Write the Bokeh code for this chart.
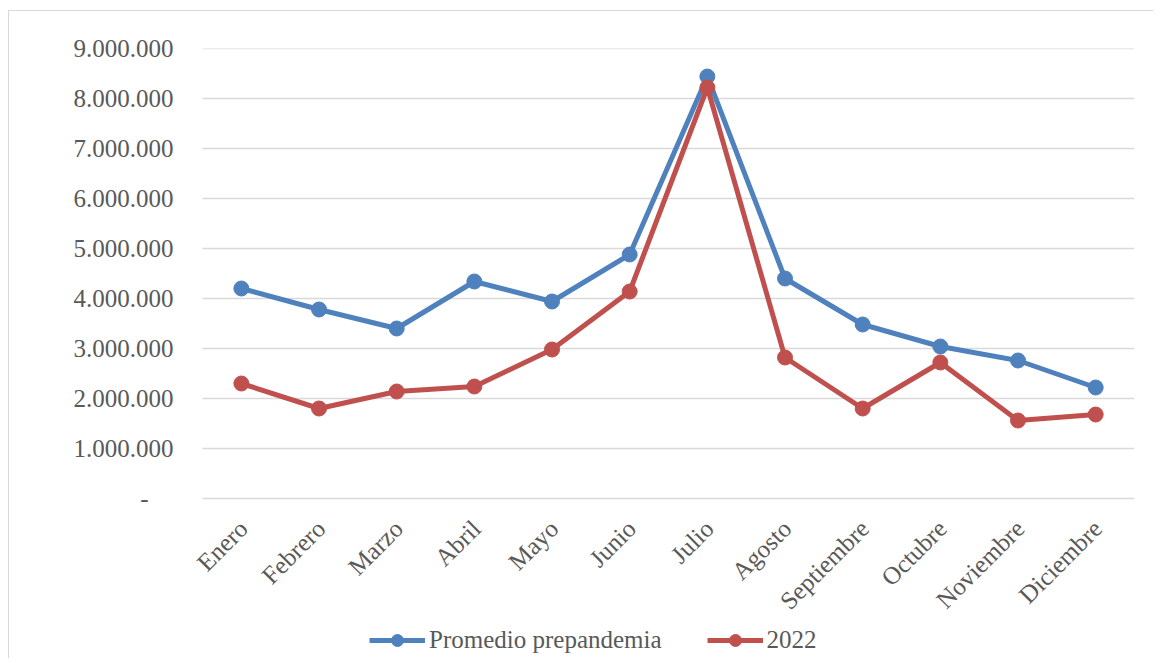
from bokeh.plotting import figure
from bokeh.models import Legend, LegendItem, CustomJSTickFormatter, Range1d, ColumnDataSource
from bokeh.core.properties import value
from bokeh.embed import file_html
from bokeh.resources import INLINE
from math import pi

months = ["Enero", "Febrero", "Marzo", "Abril", "Mayo", "Junio", "Julio",
          "Agosto", "Septiembre", "Octubre", "Noviembre", "Diciembre"]
promedio = [4200000, 3780000, 3400000, 4340000, 3940000, 4880000, 8440000,
            4400000, 3480000, 3040000, 2760000, 2220000]
y2022 = [2300000, 1800000, 2140000, 2240000, 2980000, 4140000, 8220000,
         2820000, 1800000, 2720000, 1560000, 1680000]
yticks = [0, 1000000, 2000000, 3000000, 4000000, 5000000, 6000000, 7000000, 8000000, 9000000]

BLUE = "#4F81BD"
RED = "#C0504D"
TXT = "#595959"
FONT = "Liberation Serif"

n = len(months)
xpos = list(range(n))

# frame extends below zero (and slightly left) so category labels and legend sit inside it
p = figure(frame_width=944, frame_height=610,
           x_range=Range1d(-0.655, n - 0.5), y_range=Range1d(-3200000, 9000000),
           output_backend="svg", toolbar_location=None,
           min_border_left=181, min_border_top=37, min_border_right=19, min_border_bottom=0)
p.margin = (10, 0, 0, 8)
p.styles = {"border-left": "1px solid #d9d9d9", "border-top": "1px solid #d9d9d9"}
p.outline_line_color = None
p.background_fill_color = "white"

p.xaxis.visible = False
p.xgrid.grid_line_color = None
p.ygrid.grid_line_color = None

# horizontal gridlines across the category band
p.segment(x0=[-0.5] * len(yticks), y0=yticks, x1=[n - 0.5] * len(yticks), y1=yticks,
          line_color="#d9d9d9", line_width=1.5)

p.yaxis.ticker = yticks
p.yaxis.formatter = CustomJSTickFormatter(code="""
if (tick == 0) { return "-\u00a0\u00a0\u00a0\u00a0"; }
return Math.round(tick).toString().replace(/\\B(?=(\\d{3})+(?!\\d))/g, ".");
""")
ax = p.yaxis
ax.axis_line_color = None
ax.major_tick_line_color = None
ax.minor_tick_line_color = None
ax.major_tick_out = 0
ax.major_tick_in = 0
ax.minor_tick_out = 0
ax.major_label_text_font = FONT
ax.major_label_text_font_size = "25px"
ax.major_label_text_color = TXT
ax.major_label_standoff = 17

# category labels (rotated 45 degrees, ending under each category)
lab_src = ColumnDataSource(dict(x=xpos, y=[0] * n, t=months))
p.text(x="x", y="y", text="t", source=lab_src, angle=pi / 4,
       x_offset=2, y_offset=26, text_align="right", text_baseline="middle",
       text_font=value(FONT), text_font_size="25px", text_color=TXT)

l1 = p.line(xpos, promedio, line_color=BLUE, line_width=5)
s1 = p.scatter(xpos, promedio, size=15, fill_color=BLUE, line_color=BLUE)
l2 = p.line(xpos, y2022, line_color=RED, line_width=5)
s2 = p.scatter(xpos, y2022, size=15, fill_color=RED, line_color=RED)

legend = Legend(items=[LegendItem(label="Promedio prepandemia", renderers=[l1, s1]),
                       LegendItem(label="2022", renderers=[l2, s2])],
                orientation="horizontal", location=(179, 3),
                label_text_font=FONT, label_text_font_size="25px", label_text_color=TXT,
                glyph_width=56, glyph_height=30, spacing=45, label_standoff=4,
                border_line_color=None, background_fill_alpha=0, padding=2, margin=0)
p.add_layout(legend, "center")

open("out.html", "w").write(file_html(p, INLINE))
